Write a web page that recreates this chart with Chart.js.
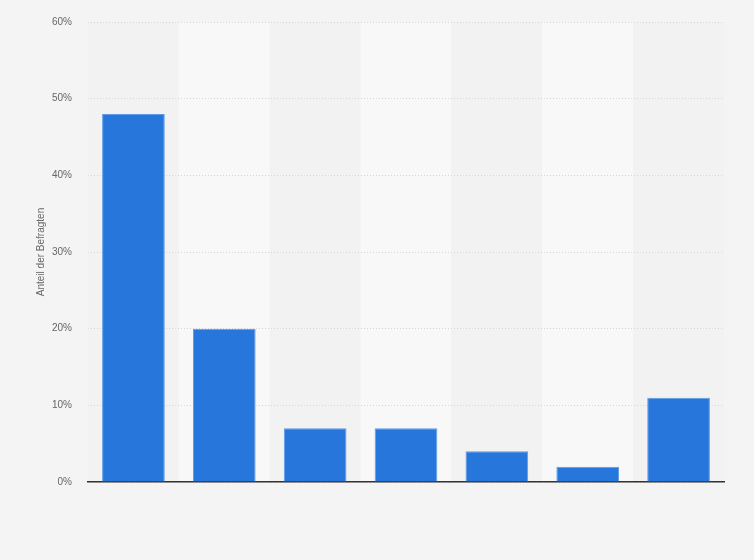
<!DOCTYPE html>
<html>
<head>
<meta charset="utf-8">
<script src="https://cdn.jsdelivr.net/npm/chart.js@4"></script>
<style>
html,body{margin:0;padding:0;background:#f4f4f4;}
#wrap{width:754px;height:560px;position:relative;}
</style>
</head>
<body>
<div id="wrap"><canvas id="c"></canvas></div>
<script>
const categories = ["1", "2", "3", "4", "5", "6", "7"];
const shares = [48, 20, 7, 7, 4, 2, 11];
const yTicks = [0, 10, 20, 30, 40, 50, 60];
const yTitle = "Anteil der Befragten";

const bandsBg = {
  id: 'bandsBg',
  beforeDraw(chart) {
    const {ctx, chartArea, scales} = chart;
    if (!scales.x) return;
    const x = scales.x;
    const w = (chartArea.right - chartArea.left) / categories.length;
    ctx.save();
    categories.forEach((c, i) => {
      const cx = x.getPixelForValue(i);
      ctx.fillStyle = i % 2 === 1 ? '#f8f8f8' : '#f2f2f2';
      ctx.fillRect(cx - w / 2, chartArea.top, w, chartArea.bottom - chartArea.top);
    });
    ctx.restore();
  }
};

new Chart(document.getElementById('c'), {
  type: 'bar',
  data: {
    labels: categories,
    datasets: [{
      data: shares,
      backgroundColor: '#2776db',
      borderColor: '#5f9be6',
      borderWidth: {top: 1, left: 1, right: 1, bottom: 0},
      categoryPercentage: 1,
      barPercentage: 0.69
    }]
  },
  options: {
    responsive: true,
    maintainAspectRatio: false,
    animation: false,
    layout: {padding: {left: 0, right: 30, top: 20, bottom: 70}},
    plugins: {legend: {display: false}, tooltip: {enabled: false}},
    scales: {
      x: {
        grid: {display: false},
        ticks: {display: false},
        border: {display: true, color: '#333333', width: 1.5}
      },
      y: {
        min: 0, max: 60,
        afterBuildTicks(s) { s.ticks = yTicks.map(v => ({value: v})); },
        afterFit(s) { s.width = 88; },
        ticks: {
          padding: 16,
          color: '#666666',
          font: {family: 'Arial, "Liberation Sans", sans-serif', size: 10},
          callback: v => v + '%'
        },
        grid: {color: '#d6d6d6', borderDash: [1, 2], drawTicks: false, lineWidth: 1},
        border: {display: false, dash: [1, 2]},
        title: {
          display: true,
          text: yTitle,
          color: '#666666',
          font: {family: 'Arial, "Liberation Sans", sans-serif', size: 10},
          padding: {top: 35, bottom: 0}
        }
      }
    }
  },
  plugins: [bandsBg]
});
</script>
</body>
</html>
